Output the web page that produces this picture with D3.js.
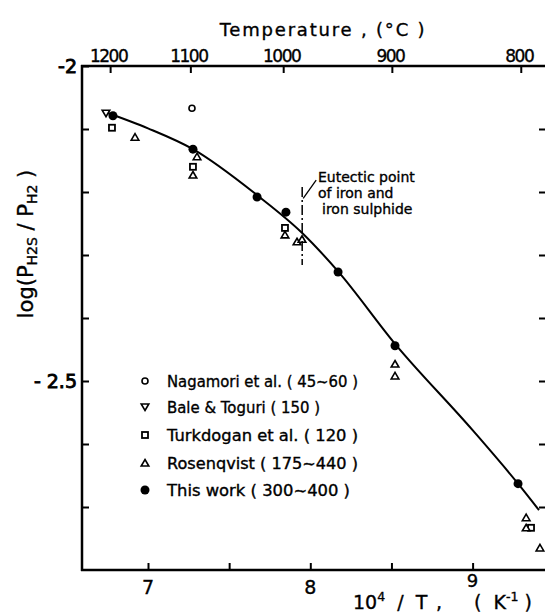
<!DOCTYPE html>
<html>
<head>
<meta charset="utf-8">
<script src="https://cdn.jsdelivr.net/npm/d3@7"></script>
<style>
  html, body { margin: 0; padding: 0; background: #fff; }
  svg { display: block; }
  text { font-family: "DejaVu Sans", "Liberation Sans", sans-serif; fill: #000; stroke: #000; stroke-width: 0.35; white-space: pre; }
</style>
</head>
<body>
<svg id="chart" width="545" height="614"></svg>
<script>
// ---------- data ----------
const xTicks = [7, 7.5, 8, 8.5, 9];
const xTickLabels = ["7", "", "8", "", "9"];
const yTicks = [-2, -2.1, -2.2, -2.3, -2.4, -2.5, -2.6, -2.7];
const yTickLabels = ["-2", "", "", "", "", "- 2.5", "", ""];
const tempTicks = [1200, 1100, 1000, 900, 800];

const nagamoriX = [7.271];
const nagamoriY = [-2.067];

const baleX = [6.741];
const baleY = [-2.075];

const turkdoganX = [6.778, 7.277, 7.844, 9.36];
const turkdoganY = [-2.098, -2.160, -2.257, -2.733];

const rosenqvistX = [6.920, 7.302, 7.277, 7.844, 7.918, 7.949, 8.522, 8.522, 9.33, 9.33, 9.415];
const rosenqvistY = [-2.113, -2.144, -2.173, -2.268, -2.279, -2.275, -2.473, -2.492, -2.717, -2.733, -2.765];

const thisWorkX = [6.784, 7.277, 7.672, 7.850, 8.171, 8.522, 9.280];
const thisWorkY = [-2.079, -2.132, -2.208, -2.232, -2.327, -2.444, -2.663];

const curveX = [6.735, 7.0, 7.277, 7.672, 7.95, 8.171, 8.522, 9.0, 9.280, 9.409];
const curveY = [-2.073, -2.099, -2.132, -2.205, -2.265, -2.326, -2.441, -2.578, -2.663, -2.705];

const legendLabels = [
  "Nagamori et al. ( 45~60 )",
  "Bale & Toguri ( 150 )",
  "Turkdogan et al. ( 120 )",
  "Rosenqvist ( 175~440 )",
  "This work ( 300~400 )"
];
const legendSymbols = ["circle", "tridown", "square", "triup", "dot"];

const eutecticX = 7.95;
const eutecticLines = ["Eutectic point", "of iron and", "iron sulphide"];

// ---------- layout ----------
(function () {
const svg = d3.select("#chart");
const pL = 82, pR = 545, pT = 66, pB = 570;

const x = d3.scaleLinear().domain([7, 9]).range([148, 472.6]);
const xMin = x.invert(pL), xMax = x.invert(pR);
x.domain([xMin, xMax]).range([pL, pR]);
const y = d3.scaleLinear().domain([-2.8, -2]).range([pB, pT]);

const black = "#000";
const tickLen = 7;

// frame lines (left, top, bottom)
svg.append("line").attr("x1", pL).attr("x2", pL).attr("y1", pT - 1).attr("y2", pB + 1)
  .attr("stroke", black).attr("stroke-width", 2.5);
svg.append("line").attr("x1", pL - 1).attr("x2", pR).attr("y1", pT).attr("y2", pT)
  .attr("stroke", black).attr("stroke-width", 2.5);
svg.append("line").attr("x1", pL - 1).attr("x2", pR).attr("y1", pB).attr("y2", pB)
  .attr("stroke", black).attr("stroke-width", 2.5);

// bottom axis (ticks pointing inward)
const gB = svg.append("g").attr("transform", `translate(0,${pB})`)
  .call(d3.axisBottom(x).tickValues(xTicks).tickSize(-tickLen).tickFormat(""));
gB.select(".domain").remove();
gB.selectAll(".tick line").attr("stroke", black).attr("stroke-width", 2);
svg.append("g").selectAll("text").data(xTicks).join("text")
  .attr("x", d => x(d)).attr("y", (d, i) => i === 4 ? 587 : 594)
  .attr("text-anchor", "middle").attr("font-size", (d, i) => i === 4 ? 18 : 19)
  .text((d, i) => xTickLabels[i]);

// left axis
const gL = svg.append("g").attr("transform", `translate(${pL},0)`)
  .call(d3.axisLeft(y).tickValues(yTicks).tickSize(-tickLen).tickFormat(""));
gL.select(".domain").remove();
gL.selectAll(".tick line").attr("stroke", black).attr("stroke-width", 2);
svg.append("g").selectAll("text").data(yTicks).join("text")
  .attr("x", 77).attr("y", d => y(d) + 7)
  .attr("text-anchor", "end").attr("font-size", 19).style("stroke-width", "0.9px")
  .text((d, i) => yTickLabels[i]);

// right ticks
const gR = svg.append("g").attr("transform", `translate(${pR},0)`)
  .call(d3.axisRight(y).tickValues(yTicks.slice(1)).tickSize(-6).tickFormat(""));
gR.select(".domain").remove();
gR.selectAll(".tick line").attr("stroke", black).attr("stroke-width", 2);

// top axis: temperature in °C  (10^4 / (t + 273.15))
const tx = t => x(1e4 / (t + 273.15)) - 3;
svg.append("g").selectAll("line").data(tempTicks).join("line")
  .attr("x1", tx).attr("x2", tx).attr("y1", pT).attr("y2", pT + tickLen)
  .attr("stroke", black).attr("stroke-width", 2);
svg.append("g").selectAll("text").data(tempTicks).join("text")
  .attr("x", d => tx(d) - 2).attr("y", 62)
  .attr("text-anchor", "middle").attr("font-size", 17).attr("letter-spacing", -1.5)
  .text(d => d);

svg.append("text").attr("x", 323).attr("y", 36).attr("text-anchor", "middle")
  .attr("font-size", 18).attr("letter-spacing", 1.8)
  .text("Temperature , (°C )");

// y label
const yl = svg.append("text").attr("transform", "translate(33,244) rotate(-90)")
  .attr("text-anchor", "middle").attr("font-size", 21);
yl.append("tspan").text("log(P");
yl.append("tspan").attr("font-size", 14).attr("dy", 4).text("H2S");
yl.append("tspan").attr("dy", -4).text(" / P");
yl.append("tspan").attr("font-size", 14).attr("dy", 4).text("H2");
yl.append("tspan").attr("dy", -4).text(" )");

// x label
const xlY = 609;
const xl1 = svg.append("text").attr("x", 353).attr("y", xlY).attr("font-size", 19);
xl1.append("tspan").text("10");
xl1.append("tspan").attr("font-size", 12.5).attr("dy", -8).text("4");
xl1.append("tspan").attr("dy", 8).text("  /  T");
svg.append("text").attr("x", 436).attr("y", xlY).attr("font-size", 19).text(",");
const xl2 = svg.append("text").attr("x", 474).attr("y", xlY).attr("font-size", 19);
xl2.append("tspan").text("(  K");
xl2.append("tspan").attr("font-size", 12.5).attr("dy", -8).text("-1");
xl2.append("tspan").attr("dy", 8).text(" )");

// ---------- curve ----------
const curvePts = curveX.map((v, i) => [v, curveY[i]]);
svg.append("path").datum(curvePts)
  .attr("d", d3.line().x(d => x(d[0])).y(d => y(d[1])).curve(d3.curveMonotoneX))
  .attr("fill", "none").attr("stroke", black).attr("stroke-width", 2);

// ---------- markers ----------
function drawSym(g, kind, cx, cy) {
  if (kind === "circle") {
    g.append("circle").attr("cx", cx).attr("cy", cy).attr("r", 3)
      .attr("fill", "#fff").attr("stroke", black).attr("stroke-width", 1.6);
  } else if (kind === "dot") {
    g.append("circle").attr("cx", cx).attr("cy", cy).attr("r", 4.5).attr("fill", black);
  } else if (kind === "square") {
    g.append("rect").attr("x", cx - 3).attr("y", cy - 3).attr("width", 6).attr("height", 6)
      .attr("fill", "#fff").attr("stroke", black).attr("stroke-width", 1.8);
  } else if (kind === "triup") {
    g.append("path").attr("d", `M${cx},${cy - 3.5}L${cx + 3.8},${cy + 3}L${cx - 3.8},${cy + 3}Z`)
      .attr("fill", "#fff").attr("stroke", black).attr("stroke-width", 1.6);
  } else if (kind === "tridown") {
    g.append("path").attr("d", `M${cx},${cy + 3.5}L${cx + 3.8},${cy - 3}L${cx - 3.8},${cy - 3}Z`)
      .attr("fill", "#fff").attr("stroke", black).attr("stroke-width", 1.6);
  }
}
const gm = svg.append("g");
turkdoganX.forEach((v, i) => drawSym(gm, "square", x(v), y(turkdoganY[i])));
rosenqvistX.forEach((v, i) => drawSym(gm, "triup", x(v), y(rosenqvistY[i])));
nagamoriX.forEach((v, i) => drawSym(gm, "circle", x(v), y(nagamoriY[i])));
baleX.forEach((v, i) => drawSym(gm, "tridown", x(v), y(baleY[i])));
thisWorkX.forEach((v, i) => drawSym(gm, "dot", x(v), y(thisWorkY[i])));

// ---------- eutectic annotation ----------
svg.append("line").attr("x1", x(eutecticX)).attr("x2", x(eutecticX))
  .attr("y1", y(-2.192)).attr("y2", y(-2.316))
  .attr("stroke", black).attr("stroke-width", 1.5).attr("stroke-dasharray", "10,3,2,3");
svg.append("line").attr("x1", x(eutecticX) + 1).attr("y1", y(-2.21))
  .attr("x2", x(eutecticX) + 14).attr("y2", y(-2.181))
  .attr("stroke", black).attr("stroke-width", 1.3);
const etext = svg.append("g");
etext.selectAll("text").data(eutecticLines).join("text")
  .attr("x", (d, i) => i === 2 ? 322 : 318)
  .attr("y", (d, i) => 182 + i * 16)
  .attr("font-size", 14)
  .text(d => d);

// ---------- legend ----------
const lg = svg.append("g");
const legendYs = [381, 407, 435, 463, 490];
const legendWidths = [191, 153, 191, 191, 183];
legendLabels.forEach((lab, i) => {
  drawSym(lg, legendSymbols[i], 145, legendYs[i]);
  lg.append("text").attr("x", 167).attr("y", legendYs[i] + 6)
    .attr("font-size", 15).attr("textLength", legendWidths[i]).attr("lengthAdjust", "spacingAndGlyphs")
    .text(lab);
});
})();
</script>
</body>
</html>
